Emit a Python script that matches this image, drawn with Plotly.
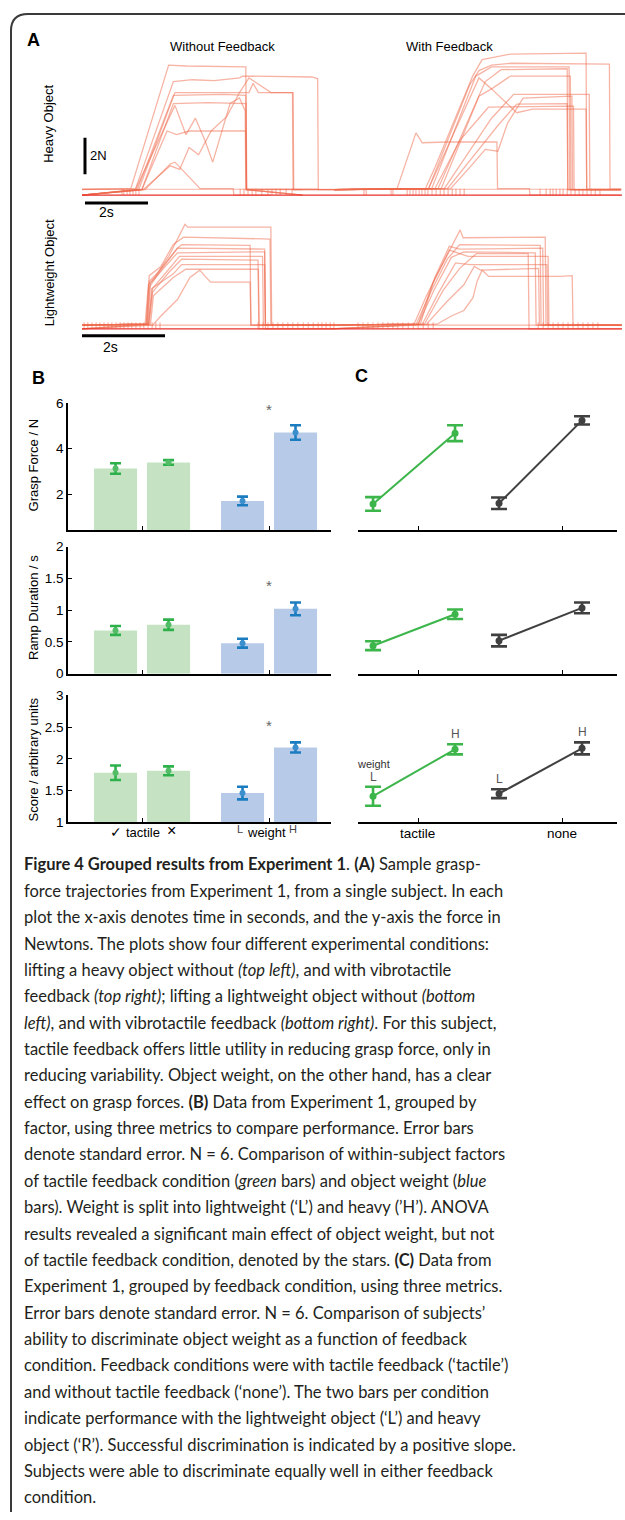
import plotly.graph_objects as go

W, H = 625, 1520
def fx(p):
    return p / W
def fy(p):
    return 1 - p / H

# ---------------- Panel A data: grasp-force trajectories (time s, force N) ----------------
heavy_without_t = [
    [0, 1.55, 2.75, 3.3, 5.2, 5.22, 7.5],
    [0, 1.7, 2.9, 3.5, 4.2, 5.0, 5.1, 7.3, 7.48, 7.5, 9.0],
    [0, 1.8, 2.95, 4.0, 5.3, 5.43, 5.6, 6.7, 6.72, 8.0],
    [0, 1.75, 2.9, 4.5, 5.2, 5.22, 7.0],
    [0, 1.9, 2.9, 4.0, 5.21, 5.23, 7.0],
    [0, 1.9, 2.7, 3.0, 3.4, 5.2, 5.22, 7.0],
    [0, 1.7, 2.95, 3.3, 3.6, 3.9, 4.15, 4.35, 4.7, 5.0, 5.18, 5.2, 7.0],
    [0, 1.94, 2.8, 3.1, 3.4, 3.7, 4.1, 4.6, 5.0, 5.3, 6.0, 6.68, 6.7, 8.0],
    [0, 2.0, 2.8, 2.95, 3.75, 4.8, 4.82, 6.0],
]
heavy_without_f = [
    [0.32, 0.35, 7.1, 7.05, 7.0, 0.32, 0.32],
    [0.3, 0.35, 6.2, 6.3, 6.25, 6.4, 6.5, 6.45, 6.35, 0.3, 0.3],
    [0, 0.3, 5.6, 5.6, 5.6, 6.1, 5.6, 5.6, 0.3, 0.3],
    [0, 0.3, 5.45, 5.5, 5.45, 0.3, 0],
    [0, 0.3, 5.0, 5.05, 5.0, 0.3, 0],
    [0, 0.3, 3.5, 3.3, 3.5, 3.5, 0.3, 0],
    [0, 0.3, 4.9, 3.3, 4.2, 3.0, 1.8, 3.0, 5.0, 5.3, 4.6, 0.3, 0.3],
    [0, 0.3, 1.6, 1.4, 2.6, 2.2, 3.5, 4.3, 5.6, 6.4, 5.6, 5.6, 0.3, 0.3],
    [0, 0.3, 1.7, 1.8, 0.35, 0.35, 0, 0],
]
heavy_with_t = [
    [8.5, 10.9, 11.2, 12.4, 12.7, 13.6, 16.0, 16.02, 17.1],
    [8.0, 11.0, 12.3, 12.6, 13.0, 13.6, 16.74, 16.76, 17.1],
    [8.0, 11.1, 12.5, 13.0, 15.46, 15.48, 17.1],
    [8.0, 11.3, 12.8, 13.3, 15.4, 15.42, 17.1],
    [8.0, 11.4, 12.6, 13.0, 13.6, 15.5, 15.52, 17.1],
    [8.0, 11.5, 13.0, 13.7, 16.1, 16.12, 17.1],
    [8.0, 11.6, 13.2, 13.8, 15.4, 15.42, 17.1],
    [8.0, 11.2, 12.0, 12.9, 15.6, 15.62, 17.1],
    [8.0, 10.0, 10.6, 10.8, 11.6, 13.17, 13.19, 14.2, 14.22, 17.1],
    [8.0, 11.0, 12.6, 13.0, 13.8, 14.3, 16.0, 16.02, 17.1],
    [8.0, 11.7, 12.3, 12.8, 13.2, 13.5, 14.0, 15.55, 15.57, 17.1],
]
heavy_with_f = [
    [0.32, 0.35, 1.5, 6.5, 7.4, 7.7, 7.75, 0.32, 0.32],
    [0.3, 0.35, 6.0, 6.8, 7.1, 7.2, 7.15, 0.32, 0.32],
    [0.3, 0.35, 6.5, 7.0, 7.0, 0.3, 0.3],
    [0.3, 0.35, 6.2, 6.85, 6.9, 0.3, 0.3],
    [0.3, 0.35, 5.4, 5.8, 6.5, 6.5, 0.3, 0.3],
    [0.3, 0.35, 4.2, 5.5, 5.5, 0.3, 0.3],
    [0.3, 0.35, 3.8, 4.97, 5.0, 0.3, 0.3],
    [0.3, 0.35, 3.0, 4.8, 4.86, 0.3, 0.3],
    [0.3, 0.35, 3.4, 2.86, 2.9, 2.9, 0.35, 0.35, 0.0, 0.0],
    [0.3, 0.35, 6.4, 5.8, 4.5, 4.7, 4.7, 0.3, 0.3],
    [0.3, 0.35, 1.5, 2.5, 2.4, 3.9, 5.3, 5.4, 0.3, 0.3],
]
light_without_t = [
    [0, 1.52, 1.6, 1.75, 2.1, 2.48, 2.55, 4.55, 4.57, 6.0],
    [0, 1.55, 1.62, 1.8, 2.3, 2.4, 4.05, 4.07, 6.0],
    [0, 1.57, 1.63, 1.9, 2.3, 4.4, 4.42, 6.0],
    [0, 1.58, 1.65, 2.0, 2.3, 4.4, 4.42, 6.0],
    [0, 1.6, 1.7, 2.1, 2.35, 4.35, 4.37, 6.0],
    [0, 1.62, 1.7, 2.1, 2.4, 4.24, 4.26, 6.0],
    [0, 1.6, 1.68, 2.2, 2.4, 4.4, 4.42, 6.0],
    [0, 1.65, 1.72, 2.2, 2.5, 4.25, 4.27, 6.0],
    [0, 1.7, 1.9, 2.3, 2.6, 2.84, 2.95, 3.1, 4.05, 4.07, 6.0],
    [0, 1.55, 1.62, 1.9, 2.2, 2.45, 4.53, 4.55, 6.0],
]
light_without_f = [
    [0.2, 0.25, 2.4, 2.8, 4.0, 5.7, 5.55, 5.55, 0.2, 0.2],
    [0.2, 0.25, 2.6, 3.0, 4.4, 4.6, 4.55, 0.2, 0.2],
    [0.2, 0.25, 2.3, 3.2, 4.4, 4.35, 0.2, 0.2],
    [0.2, 0.25, 2.5, 3.4, 4.15, 4.2, 0.2, 0.2],
    [0.2, 0.25, 2.2, 3.3, 3.95, 3.95, 0.2, 0.2],
    [0.2, 0.25, 2.0, 3.1, 3.8, 3.75, 0.2, 0.2],
    [0, 0.25, 2.2, 3.0, 3.5, 3.5, 0, 0],
    [0, 0.25, 1.8, 2.8, 3.25, 3.25, 0, 0],
    [0, 0.2, 0.7, 1.6, 2.8, 3.2, 2.9, 2.55, 2.55, 0.2, 0.2],
    [0.2, 0.25, 2.9, 3.4, 4.6, 5.0, 4.9, 0.2, 0.2],
]
light_with_t = [
    [6.0, 8.0, 8.3, 8.7, 9.04, 9.11, 9.18, 11.16, 11.18, 13.0],
    [6.0, 8.05, 8.4, 8.8, 9.1, 11.04, 11.06, 13.0],
    [6.0, 8.1, 8.5, 8.9, 9.2, 10.92, 10.94, 13.0],
    [6.0, 8.1, 8.45, 8.85, 9.3, 11.23, 11.25, 13.0],
    [6.0, 8.2, 8.6, 9.0, 9.35, 11.2, 11.22, 13.0],
    [6.0, 8.25, 8.7, 9.1, 9.5, 10.75, 10.77, 13.0],
    [6.0, 8.55, 8.9, 9.2, 9.42, 9.52, 9.64, 9.8, 11.52, 11.81, 11.83, 13.0],
    [6.0, 8.3, 8.8, 9.2, 9.45, 9.6, 11.0, 11.02, 13.0],
    [6.0, 8.15, 8.5, 8.85, 9.1, 11.1, 11.12, 13.0],
]
light_with_f = [
    [0.2, 0.25, 1.8, 3.6, 5.1, 5.4, 4.97, 5.0, 0.2, 0.2],
    [0.2, 0.25, 2.0, 3.8, 4.6, 4.55, 0.2, 0.2],
    [0.2, 0.25, 2.2, 3.9, 4.2, 4.15, 0.2, 0.2],
    [0.2, 0.25, 2.5, 4.3, 3.95, 3.95, 0.2, 0.2],
    [0.2, 0.25, 2.0, 3.6, 3.5, 3.5, 0.2, 0.2],
    [0, 0.25, 2.1, 3.3, 4.1, 4.1, 0, 0],
    [0, 0.25, 0.7, 1.0, 1.7, 2.6, 3.2, 2.86, 2.86, 2.9, 0.2, 0.2],
    [0, 0.25, 1.5, 2.4, 3.4, 3.2, 3.3, 0.2, 0.2],
    [0.2, 0.25, 2.8, 4.5, 4.35, 4.4, 0.2, 0.2],
]
# baseline noise flicker times (s)
heavy_noise_t = [1.27, 1.33, 1.43, 1.52, 1.62, 1.71, 1.81,
                 5.02, 5.14, 5.27, 5.40, 5.52, 5.71, 5.90, 6.03, 6.16, 6.29, 6.48, 6.67,
                 8.95, 9.02, 9.81, 9.87,
                 10.32, 10.41, 10.51, 10.6, 10.7, 10.79, 10.89, 10.98, 11.11, 11.24, 11.37,
                 11.49, 11.62, 11.75, 11.87, 12.0, 12.13,
                 14.54, 14.73, 14.86, 14.95, 15.05, 15.17, 15.27, 15.4, 15.52, 15.65, 15.78,
                 15.9, 16.03, 16.16, 16.29, 16.44]
light_noise_t = [0.05, 0.14, 0.24, 0.34, 0.43, 0.53, 0.63, 0.72, 0.82, 0.92, 1.01, 1.11, 1.2,
                 1.3, 1.4, 1.49, 1.59, 1.69, 1.78, 1.88,
                 4.24, 4.36, 4.48, 4.6, 4.72, 4.84, 4.96, 5.08, 5.2, 5.33, 5.45, 5.57, 5.69,
                 5.78, 5.88, 5.98, 6.07,
                 6.65, 6.77, 6.89, 7.01, 7.13, 7.25, 7.37, 7.49, 7.61, 7.73, 7.86, 7.98, 8.1,
                 8.22, 8.34, 8.46,
                 10.99, 11.11, 11.23, 11.35, 11.47, 11.59, 11.71, 11.83, 11.95, 12.07, 12.19,
                 12.31, 12.43]
heavy_span_s = 17.14
light_span_s = 13.01
noise_level = 0.35

# ---------------- Panel B data (bars: tactile yes/no, weight L/H) ----------------
metric_names = ["Grasp Force / N", "Ramp Duration / s", "Score / arbitrary units"]
tactile_mean = [[3.13, 3.40], [0.68, 0.77], [1.78, 1.81]]
tactile_se = [[0.23, 0.10], [0.07, 0.08], [0.115, 0.07]]
weight_mean = [[1.71, 4.71], [0.48, 1.02], [1.46, 2.18]]
weight_se = [[0.19, 0.32], [0.07, 0.10], [0.10, 0.08]]
star_y = [5.7, 1.39, 2.52]
y_ranges = [[0.435, 6], [0, 2], [1, 3]]
y_ticks = [[2, 4, 6], [0, 0.5, 1, 1.5, 2], [1, 1.5, 2, 2.5, 3]]
y_ticktext = [["2", "4", "6"], ["0", "0.5", "1", "1.5", "2"], ["1", "1.5", "2", "2.5", "3"]]

# ---------------- Panel C data (feedback condition, L and H weight) ----------------
cond_labels = ["tactile", "none"]
tactile_LH_x = [0.6875, 1.257]
none_LH_x = [1.5625, 2.139]
c_tactile_mean = [[1.58, 4.68], [0.44, 0.935], [1.41, 2.15]]
c_tactile_se = [[0.30, 0.35], [0.07, 0.075], [0.15, 0.08]]
c_none_mean = [[1.61, 5.24], [0.52, 1.035], [1.45, 2.165]]
c_none_se = [[0.25, 0.18], [0.09, 0.085], [0.07, 0.095]]

# ---------------- styling ----------------
TRACE = "rgba(240,105,75,0.5)"
BASE_RED = "#e8322a"
G_BAR, B_BAR = "#c5e3c2", "#b7cbe8"
G_ERR, B_ERR = "#2eb14b", "#1b7cc0"
DARK = "#404040"
AX_FONT = "Liberation Sans, Arial, sans-serif"
CAP_FONT = "Lato, Open Sans, sans-serif"

fig = go.Figure()

# -------- Panel A --------
def add_rows(ts, fs, xa, ya):
    for t, f in zip(ts, fs):
        fig.add_trace(go.Scatter(x=t, y=f, mode="lines", xaxis=xa, yaxis=ya,
                                 line=dict(color=TRACE, width=1.3), hoverinfo="skip",
                                 showlegend=False))

def add_noise(ts, xa, ya):
    xs, ys = [], []
    for t in ts:
        xs += [t, t, None]
        ys += [0, noise_level, None]
    fig.add_trace(go.Scatter(x=xs, y=ys, mode="lines", xaxis=xa, yaxis=ya,
                             line=dict(color="rgba(240,90,60,0.55)", width=1),
                             hoverinfo="skip", showlegend=False))

for xa, ya, span, pale in (("x", "y", heavy_span_s, 0.32), ("x2", "y2", light_span_s, 0.2)):
    fig.add_trace(go.Scatter(x=[0, span], y=[pale, pale], mode="lines", xaxis=xa, yaxis=ya,
                             line=dict(color="rgba(240,110,80,0.5)", width=1.2),
                             hoverinfo="skip", showlegend=False))
add_noise(heavy_noise_t, "x", "y")
add_noise(light_noise_t, "x2", "y2")
add_rows(heavy_without_t, heavy_without_f, "x", "y")
add_rows(heavy_with_t, heavy_with_f, "x", "y")
add_rows(light_without_t, light_without_f, "x2", "y2")
add_rows(light_with_t, light_with_f, "x2", "y2")
for xa, ya, span in (("x", "y", heavy_span_s), ("x2", "y2", light_span_s)):
    fig.add_trace(go.Scatter(x=[0, span], y=[0, 0], mode="lines", xaxis=xa, yaxis=ya,
                             line=dict(color=BASE_RED, width=1.3), hoverinfo="skip",
                             showlegend=False))

# scale bars (2 s, 2 N)
sb = dict(mode="lines", line=dict(color="black", width=3), hoverinfo="skip",
          showlegend=False, cliponaxis=False)
fig.add_trace(go.Scatter(x=[0.095, 2.095], y=[-0.43, -0.43], xaxis="x", yaxis="y", **sb))
fig.add_trace(go.Scatter(x=[0.095, 0.095], y=[1.135, 3.135], xaxis="x", yaxis="y", **sb))
fig.add_trace(go.Scatter(x=[0, 2], y=[-0.38, -0.38], xaxis="x2", yaxis="y2", **sb))

# -------- Panel B --------
off, bw = 0.2087, 0.339
for i in range(3):
    xa, ya = f"x{3+i}", f"y{3+i}"
    fig.add_trace(go.Bar(x=[1 - off, 1 + off], y=tactile_mean[i], width=bw, xaxis=xa, yaxis=ya,
                         marker=dict(color=G_BAR, line=dict(width=0)), showlegend=False))
    fig.add_trace(go.Bar(x=[2 - off, 2 + off], y=weight_mean[i], width=bw, xaxis=xa, yaxis=ya,
                         marker=dict(color=B_BAR, line=dict(width=0)), showlegend=False))
    fig.add_trace(go.Scatter(x=[1 - off, 1 + off], y=tactile_mean[i], mode="markers",
                             xaxis=xa, yaxis=ya, marker=dict(color="#52bd66", size=6),
                             error_y=dict(type="data", array=tactile_se[i], color=G_ERR,
                                          thickness=2.6, width=5.5), showlegend=False))
    fig.add_trace(go.Scatter(x=[2 - off, 2 + off], y=weight_mean[i], mode="markers",
                             xaxis=xa, yaxis=ya, marker=dict(color="#3b8fcc", size=6),
                             error_y=dict(type="data", array=weight_se[i], color=B_ERR,
                                          thickness=2.6, width=5.5), showlegend=False))

# -------- Panel C --------
for i in range(3):
    xa, ya = f"x{6+i}", f"y{6+i}"
    for xs, m, s, col in ((tactile_LH_x, c_tactile_mean[i], c_tactile_se[i], "#3cb54a"),
                          (none_LH_x, c_none_mean[i], c_none_se[i], DARK)):
        fig.add_trace(go.Scatter(x=xs, y=m, mode="lines+markers", xaxis=xa, yaxis=ya,
                                 line=dict(color=col, width=2), marker=dict(color=col, size=7),
                                 error_y=dict(type="data", array=s, color=col, thickness=2.6,
                                              width=8), showlegend=False))

# -------- layout --------
layout = dict(width=W, height=H, margin=dict(l=0, r=0, t=0, b=0, pad=0), autosize=False,
              paper_bgcolor="white", plot_bgcolor="white", barmode="overlay",
              showlegend=False, font=dict(family=AX_FONT, color="black"))

layout["xaxis"] = dict(domain=[fx(82), fx(622)], range=[0, heavy_span_s], visible=False, anchor="y")
layout["yaxis"] = dict(domain=[fy(215), fy(44)], range=[(190 - 215) / 18.5, (190 - 44) / 18.5],
                       visible=False, anchor="x")
layout["xaxis2"] = dict(domain=[fx(82), fx(622)], range=[0, light_span_s], visible=False, anchor="y2")
layout["yaxis2"] = dict(domain=[fy(350), fy(205)], range=[(325 - 350) / 18.5, (325 - 205) / 18.5],
                        visible=False, anchor="x2")

b_rows = [(400, 528.3), (545, 673.3), (695.3, 823.3)]
for i, (top, bot) in enumerate(b_rows):
    ax_common = dict(showline=True, linecolor="black", linewidth=1.5, ticks="inside",
                     ticklen=4, tickwidth=1.2, tickcolor="black", showgrid=False, zeroline=False)
    layout[f"xaxis{3+i}"] = dict(domain=[fx(68), fx(331)], range=[0.417, 2.488],
                                 tickvals=[1, 2], showticklabels=False, anchor=f"y{3+i}",
                                 **ax_common)
    layout[f"yaxis{3+i}"] = dict(domain=[fy(bot), fy(top)], range=y_ranges[i],
                                 tickvals=y_ticks[i], ticktext=y_ticktext[i],
                                 tickfont=dict(size=13.5, family=AX_FONT), anchor=f"x{3+i}",
                                 **ax_common)
    layout[f"xaxis{6+i}"] = dict(domain=[fx(358), fx(617)], range=[0.583, 2.382],
                                 tickvals=[1, 2], showticklabels=False, anchor=f"y{6+i}",
                                 **ax_common)
    layout[f"yaxis{6+i}"] = dict(domain=[fy(bot), fy(top)], range=y_ranges[i], visible=False,
                                 anchor=f"x{6+i}")

fig.update_layout(**layout)

ann = []
def txt(x, y, s, size=13, **kw):
    d = dict(x=fx(x), y=fy(y), xref="paper", yref="paper", text=s, showarrow=False,
             xanchor="center", yanchor="middle",
             font=dict(size=size, family=kw.pop("family", AX_FONT), color=kw.pop("color", "black")))
    d.update(kw)
    ann.append(d)

# panel letters & titles
txt(33, 33, "<b>A</b>", 18)
txt(38, 375, "<b>B</b>", 18)
txt(361, 373, "<b>C</b>", 18)
txt(222, 40, "Without Feedback", 13)
txt(449, 40, "With Feedback", 13)
txt(49, 118, "Heavy Object", 13, textangle=-90)
txt(49, 269, "Lightweight Object", 13, textangle=-90)
txt(98, 150, "2N", 13)
txt(106, 207, "2s", 14)
txt(110, 343, "2s", 14)

# B y titles
for name, yc in zip(metric_names, [463, 607, 760]):
    txt(33, yc, name, 13, textangle=-90)
# stars
for i in range(3):
    ann.append(dict(x=2, y=star_y[i], xref=f"x{3+i}", yref=f"y{3+i}", text="*", showarrow=False,
                    xanchor="center", yanchor="middle",
                    font=dict(size=15, color="#666", family=AX_FONT)))
# B x labels
txt(116, 833, "✓", 14)
txt(143, 834, "tactile", 13)
txt(171, 832, "×", 16)
txt(240, 830, "L", 11, color="#444")
txt(266, 834, "weight", 13)
txt(293, 830, "H", 11, color="#444")
# C x labels
txt(418, 835, cond_labels[0], 13.5)
txt(562, 835, cond_labels[1], 13.5)
# C3 L/H labels
for xs, m, s in ((tactile_LH_x, c_tactile_mean[2], c_tactile_se[2]),
                 (none_LH_x, c_none_mean[2], c_none_se[2])):
    for xv, mv, sv, lab in zip(xs, m, s, ["L", "H"]):
        ann.append(dict(x=xv, y=mv + sv, xref="x8", yref="y8", text=lab, showarrow=False,
                        xanchor="center", yanchor="bottom", yshift=1,
                        font=dict(size=12, color="#555", family=AX_FONT)))
ann.append(dict(x=tactile_LH_x[0], y=c_tactile_mean[2][0] + c_tactile_se[2][0], xref="x8",
                yref="y8", text="weight", showarrow=False, xanchor="center", yanchor="bottom",
                yshift=15, font=dict(size=11, color="#333", family=AX_FONT)))

# caption
caption = [
    "<b>Figure 4 Grouped results from Experiment 1</b>. <b>(A)</b> Sample grasp-",
    "force trajectories from Experiment 1, from a single subject. In each",
    "plot the x-axis denotes time in seconds, and the y-axis the force in",
    "Newtons. The plots show four different experimental conditions:",
    "lifting a heavy object without <i>(top left)</i>, and with vibrotactile",
    "feedback <i>(top right)</i>; lifting a lightweight object without <i>(bottom</i>",
    "<i>left)</i>, and with vibrotactile feedback <i>(bottom right)</i>. For this subject,",
    "tactile feedback offers little utility in reducing grasp force, only in",
    "reducing variability. Object weight, on the other hand, has a clear",
    "effect on grasp forces. <b>(B)</b> Data from Experiment 1, grouped by",
    "factor, using three metrics to compare performance. Error bars",
    "denote standard error. N = 6. Comparison of within-subject factors",
    "of tactile feedback condition (<i>green</i> bars) and object weight (<i>blue</i>",
    "bars). Weight is split into lightweight (‘L’) and heavy (’H’). ANOVA",
    "results revealed a significant main effect of object weight, but not",
    "of tactile feedback condition, denoted by the stars. <b>(C)</b> Data from",
    "Experiment 1, grouped by feedback condition, using three metrics.",
    "Error bars denote standard error. N = 6. Comparison of subjects’",
    "ability to discriminate object weight as a function of feedback",
    "condition. Feedback conditions were with tactile feedback (‘tactile’)",
    "and without tactile feedback (‘none’). The two bars per condition",
    "indicate performance with the lightweight object (‘L’) and heavy",
    "object (‘R’). Successful discrimination is indicated by a positive slope.",
    "Subjects were able to discriminate equally well in either feedback",
    "condition.",
]
for k, line in enumerate(caption):
    txt(22, 866 + k * 26.63, line, 16.5, family=CAP_FONT, color="#231f20", xanchor="left")

fig.update_layout(annotations=ann)

# frame
fig.add_shape(type="path", xref="paper", yref="paper",
              path=f"M {fx(11)} {fy(1520)} L {fx(11)} {fy(24)} Q {fx(11)} {fy(7)} {fx(28)} {fy(7)} L {fx(625)} {fy(7)}",
              line=dict(color="#3a3a3a", width=2))

fig.write_html("out.html", config={"displayModeBar": False}, post_script=(
    "document.body.style.margin='0';document.body.style.padding='0';"
    "document.body.style.overflow='hidden';document.documentElement.style.overflow='hidden';"))
